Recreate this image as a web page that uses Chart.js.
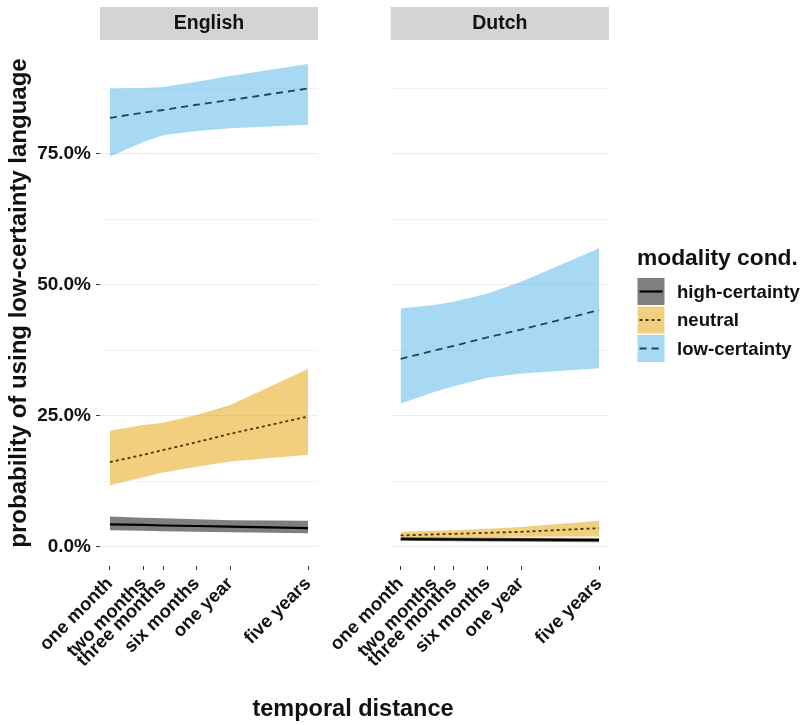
<!DOCTYPE html>
<html>
<head>
<meta charset="utf-8">
<script src="https://cdn.jsdelivr.net/npm/chart.js@4.4.1/dist/chart.umd.min.js"></script>
<style>
  html, body { margin: 0; padding: 0; background: #ffffff; }
  #wrap { position: relative; width: 805px; height: 725px; overflow: hidden; }
  #wrap canvas { position: absolute; left: 0; top: 0; }
</style>
</head>
<body>
<div id="wrap">
  <canvas id="en" width="805" height="725"></canvas>
  <canvas id="nl" width="805" height="725"></canvas>
</div>
<script>
// temporal distance in months (plotted on a log axis)
const months = [1, 2, 3, 6, 12, 60];
const monthLabels = ['one month', 'two months', 'three months', 'six months', 'one year', 'five years'];
const yTicks = [0, 12.5, 25, 37.5, 50, 62.5, 75, 87.5];
const groups = ['high-certainty', 'neutral', 'low-certainty'];
const panels = ['English', 'Dutch'];

// English: predicted probability (%) with 95% interval
const enHighMid = [4.3, 4.2, 4.1, 4.0, 3.9, 3.6];
const enHighLo  = [3.2, 3.1, 3.0, 2.9, 2.8, 2.6];
const enHighHi  = [5.8, 5.6, 5.5, 5.3, 5.1, 5.0];
const enNeuMid  = [16.2, 17.6, 18.5, 20.0, 21.6, 24.9];
const enNeuLo   = [11.8, 13.3, 14.2, 15.3, 16.3, 17.6];
const enNeuHi   = [22.2, 23.3, 23.7, 25.2, 27.1, 34.0];
const enLowMid  = [81.9, 82.9, 83.4, 84.4, 85.3, 87.5];
const enLowLo   = [74.5, 77.3, 78.6, 79.4, 79.9, 80.6];
const enLowHi   = [87.5, 87.6, 87.8, 88.8, 89.9, 92.2];

// Dutch
const nlHighMid = [1.5, 1.45, 1.45, 1.4, 1.4, 1.3];
const nlHighLo  = [1.2, 1.15, 1.1, 1.05, 1.0, 0.9];
const nlHighHi  = [1.9, 1.85, 1.8, 1.8, 1.75, 1.7];
const nlNeuMid  = [2.2, 2.4, 2.5, 2.7, 2.9, 3.6];
const nlNeuLo   = [1.7, 1.8, 1.85, 1.9, 1.95, 2.0];
const nlNeuHi   = [2.9, 3.1, 3.2, 3.5, 3.8, 5.0];
const nlLowMid  = [35.9, 37.5, 38.4, 40.0, 41.5, 45.2];
const nlLowLo   = [27.4, 29.6, 30.7, 32.3, 33.1, 34.1];
const nlLowHi   = [45.5, 46.2, 46.8, 48.4, 50.6, 57.0];

const FONT = "'Liberation Sans', Arial, Helvetica, sans-serif";
const bandColors = ['rgba(0,0,0,0.5)', 'rgba(230,159,0,0.5)', 'rgba(86,180,233,0.52)'];
const lineColors = ['#000000', '#4d3708', '#24425f'];
const lineDash = [[], [3, 3], [7, 5]];
const lineWidths = [2.2, 1.8, 1.8];

function pts(vals) { return months.map((m, i) => ({ x: m, y: vals[i] })); }

function buildDatasets(series) {
  const ds = [];
  series.forEach((s, g) => {
    const base = ds.length;
    ds.push({ label: groups[g] + ' lo', data: pts(s.lo), borderWidth: 0, pointRadius: 0, fill: false, order: 10 });
    ds.push({ label: groups[g] + ' hi', data: pts(s.hi), borderWidth: 0, pointRadius: 0,
              fill: { target: base }, backgroundColor: bandColors[g], order: 10 });
  });
  series.forEach((s, g) => {
    ds.push({ label: groups[g], data: pts(s.mid), borderColor: lineColors[g], borderWidth: lineWidths[g],
              borderDash: lineDash[g], pointRadius: 0, fill: false, order: 3 - g });
  });
  return ds;
}

const stripPlugin = {
  id: 'strip',
  afterDraw(chart, args, opts) {
    const { ctx, chartArea } = chart;
    ctx.save();
    ctx.fillStyle = '#d4d4d4';
    ctx.fillRect(chartArea.left, 7, chartArea.right - chartArea.left, 33);
    ctx.fillStyle = '#111';
    ctx.font = 'bold 19.5px ' + FONT;
    ctx.textAlign = 'center';
    ctx.textBaseline = 'middle';
    ctx.fillText(opts.text, (chartArea.left + chartArea.right) / 2, 24);
    ctx.restore();
  }
};

const xTitlePlugin = {
  id: 'xTitle',
  afterDraw(chart, args, opts) {
    if (!opts.text) return;
    const { ctx } = chart;
    ctx.save();
    ctx.fillStyle = '#111';
    ctx.font = 'bold 23.5px ' + FONT;
    ctx.textAlign = 'center';
    ctx.textBaseline = 'middle';
    ctx.fillText(opts.text, opts.x, opts.y);
    ctx.restore();
  }
};

const legendPlugin = {
  id: 'sideLegend',
  afterDraw(chart, args, opts) {
    if (!opts.show) return;
    const { ctx } = chart;
    ctx.save();
    ctx.fillStyle = '#111';
    ctx.font = 'bold 22.8px ' + FONT;
    ctx.textBaseline = 'alphabetic';
    ctx.textAlign = 'left';
    ctx.fillText('modality cond.', 637, 265);
    const x0 = 637.5, size = 27, tops = [278, 306.5, 335];
    groups.forEach((g, i) => {
      const top = tops[i];
      ctx.fillStyle = bandColors[i];
      ctx.fillRect(x0, top, size, size);
      ctx.strokeStyle = lineColors[i];
      ctx.lineWidth = lineWidths[i];
      ctx.setLineDash(lineDash[i]);
      ctx.beginPath();
      ctx.moveTo(x0 + 2, top + size / 2);
      ctx.lineTo(x0 + size - 2, top + size / 2);
      ctx.stroke();
      ctx.setLineDash([]);
      ctx.fillStyle = '#111';
      ctx.font = 'bold 18.6px ' + FONT;
      ctx.textBaseline = 'middle';
      ctx.fillText(g, 677, top + size / 2 + 1);
    });
    ctx.restore();
  }
};

function makeChart(id, series, cfg) {
  return new Chart(document.getElementById(id), {
    type: 'line',
    data: { datasets: buildDatasets(series) },
    plugins: [stripPlugin, xTitlePlugin, legendPlugin],
    options: {
      responsive: false,
      animation: false,
      events: [],
      layout: { padding: { top: 40, right: cfg.padRight, bottom: 0, left: 0 } },
      plugins: {
        legend: { display: false },
        tooltip: { enabled: false },
        filler: { drawTime: 'beforeDatasetsDraw' },
        strip: { text: cfg.name },
        xTitle: cfg.xTitle || {},
        sideLegend: { show: !!cfg.legend }
      },
      scales: {
        x: {
          type: 'logarithmic',
          min: 0.815, max: 73.6,
          afterBuildTicks: (scale) => { scale.ticks = months.map(v => ({ value: v })); },
          afterFit: (scale) => { scale.height = 159; },
          border: { display: false },
          grid: { drawOnChartArea: false, drawTicks: true, tickLength: 4, tickColor: '#333', tickWidth: 1 },
          ticks: {
            autoSkip: false, minRotation: 45, maxRotation: 45, padding: 3,
            color: '#111', font: { family: FONT, size: 18.5, weight: 'bold' },
            callback: (v, i) => monthLabels[i]
          }
        },
        y: {
          min: -3.63, max: 96.76,
          afterBuildTicks: (scale) => { scale.ticks = yTicks.map(v => ({ value: v })); },
          afterFit: (scale) => { scale.width = cfg.yWidth; },
          border: { display: false },
          grid: {
            color: '#ebebeb',
            lineWidth: (c) => (c.tick && c.tick.value % 25 === 0) ? 1.1 : 0.6,
            drawTicks: cfg.yLabels, tickLength: 4, tickWidth: 1,
            tickColor: (c) => (c.tick && c.tick.value % 25 === 0) ? '#333' : 'rgba(0,0,0,0)'
          },
          ticks: {
            display: cfg.yLabels, padding: 5,
            color: '#111', font: { family: FONT, size: 19, weight: 'bold' },
            callback: (v) => (v % 25 === 0) ? v.toFixed(1) + '%' : ''
          },
          title: {
            display: cfg.yLabels,
            text: 'probability of using low-certainty language',
            color: '#111', font: { family: FONT, size: 24, weight: 'bold' },
            padding: { top: 5, bottom: 0 }
          }
        }
      }
    }
  });
}

makeChart('en', [
  { lo: enHighLo, mid: enHighMid, hi: enHighHi },
  { lo: enNeuLo, mid: enNeuMid, hi: enNeuHi },
  { lo: enLowLo, mid: enLowMid, hi: enLowHi }
], { name: panels[0], padRight: 805 - 318, yWidth: 100, yLabels: true,
     xTitle: { text: 'temporal distance', x: 353, y: 710 } });

makeChart('nl', [
  { lo: nlHighLo, mid: nlHighMid, hi: nlHighHi },
  { lo: nlNeuLo, mid: nlNeuMid, hi: nlNeuHi },
  { lo: nlLowLo, mid: nlLowMid, hi: nlLowHi }
], { name: panels[1], padRight: 805 - 609, yWidth: 390.7, yLabels: false, legend: true });
</script>
</body>
</html>
